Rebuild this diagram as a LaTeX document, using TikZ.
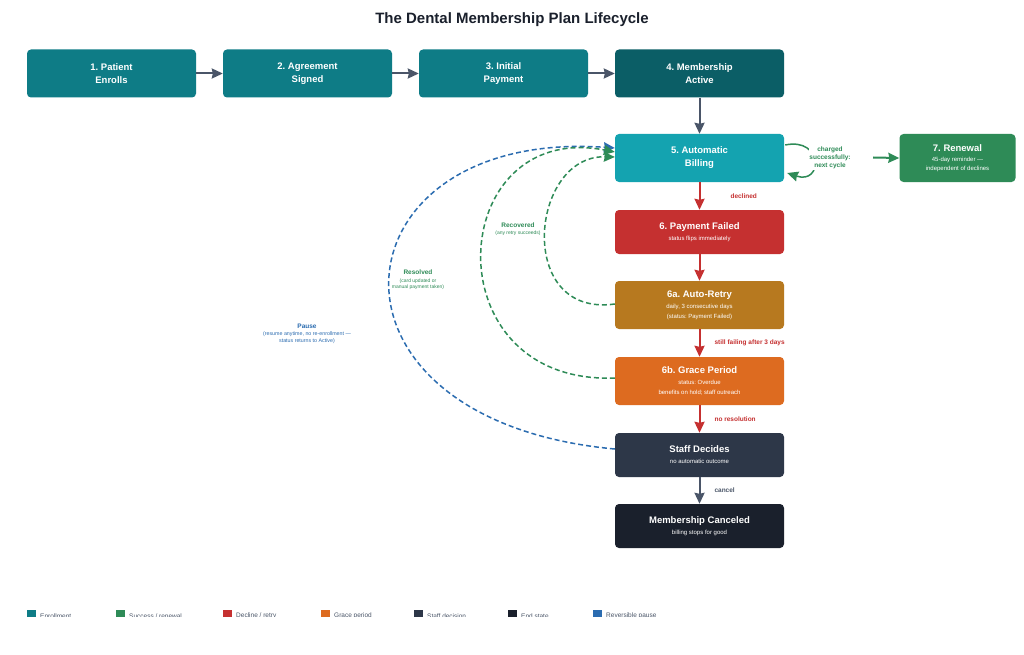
\documentclass[tikz,border=0pt]{standalone}
\usepackage{fontspec}
\setmainfont{Liberation Sans}
\setsansfont{Liberation Sans}
\usetikzlibrary{arrows.meta,calc}
\definecolor{cEnroll}{HTML}{0E7C86}
\definecolor{cActive}{HTML}{0B5E66}
\definecolor{cBill}{HTML}{14A3B0}
\definecolor{cGreen}{HTML}{2E8B57}
\definecolor{cRed}{HTML}{C53030}
\definecolor{cRetry}{HTML}{B7791F}
\definecolor{cGrace}{HTML}{DD6B20}
\definecolor{cStaff}{HTML}{2D3748}
\definecolor{cEnd}{HTML}{1A202C}
\definecolor{cBlue}{HTML}{2B6CB0}
\definecolor{cSlate}{HTML}{4A5568}
\definecolor{cTitle}{HTML}{1A202C}
\newcommand\subtx{\fontsize{6}{10}\selectfont\mdseries}
\tikzset{
  box/.style={rounded corners=4pt, minimum width=169pt, minimum height=48pt, text=white, align=center, inner sep=2pt, font=\fontsize{9.5}{13}\selectfont\bfseries},
  arr/.style={-{Stealth[length=11pt,width=10pt,inset=1pt]}, line width=2pt},
  elab/.style={font=\fontsize{6.5}{8}\selectfont\bfseries, anchor=west},
  dsh/.style={dashed, dash pattern=on 5pt off 3pt, line width=1.5pt, -{Stealth[length=11pt,width=10pt,inset=1pt]}},
  leg/.style={minimum width=9pt, minimum height=7pt, inner sep=0pt},
  legt/.style={font=\fontsize{6.5}{8}\selectfont, text=cSlate, anchor=west, inner sep=0pt}
}
\begin{document}
\frenchspacing
\begin{tikzpicture}[x=1pt,y=-1pt]
\useasboundingbox (0,0) rectangle (1024,655);
\fill[white] (0,0) rectangle (1024,655);
\node[font=\fontsize{15}{18}\selectfont\bfseries, text=cTitle] (title) at (512,19.5) {The Dental Membership Plan Lifecycle};

\node[box, fill=cEnroll] (b1) at (111.5,73.5) {1. Patient\\Enrolls};
\node[box, fill=cEnroll] (b2) at (307.5,73.5) {2. Agreement\\Signed};
\node[box, fill=cEnroll] (b3) at (503.5,73.5) {3. Initial\\Payment};
\node[box, fill=cActive] (b4) at (699.5,73.5) {4. Membership\\Active};
\node[box, fill=cBill] (b5) at (699.5,158) {5. Automatic\\Billing};
\node[box, fill=cGreen, minimum width=116pt] (b7) at (957.5,158) {7. Renewal\\[-3pt]{\subtx 45-day reminder —}\\[-4pt]{\subtx independent of declines}};
\node[box, fill=cRed, minimum height=44pt] (b6) at (699.5,232) {6. Payment Failed\\[-2pt]{\subtx status flips immediately}};
\node[box, fill=cRetry] (b6a) at (699.5,305) {6a. Auto-Retry\\[-2pt]{\subtx daily, 3 consecutive days}\\[-3pt]{\subtx (status: Payment Failed)}};
\node[box, fill=cGrace] (b6b) at (699.5,381) {6b. Grace Period\\[-2pt]{\subtx status: Overdue}\\[-3pt]{\subtx benefits on hold; staff outreach}};
\node[box, fill=cStaff, minimum height=44pt] (bs) at (699.5,455) {Staff Decides\\[-2pt]{\subtx no automatic outcome}};
\node[box, fill=cEnd, minimum height=44pt] (bc) at (699.5,526) {Membership Canceled\\[-2pt]{\subtx billing stops for good}};

\draw[arr, cSlate] (b1) -- (b2);
\draw[arr, cSlate] (b2) -- (b3);
\draw[arr, cSlate] (b3) -- (b4);
\draw[arr, cSlate] (b4) -- (b5);
\draw[arr, cRed] (b5) -- (b6);
\draw[arr, cRed] (b6) -- (b6a);
\draw[arr, cRed] (b6a) -- (b6b);
\draw[arr, cRed] (b6b) -- (bs);
\draw[arr, cSlate] (bs) -- (bc);

\node[elab, text=cRed] (l1) at (727,196) {declined};
\node[elab, text=cRed] (l2) at (711,343) {still failing after 3 days};
\node[elab, text=cRed] (l3) at (711,419) {no resolution};
\node[elab, text=cSlate] (l4) at (711,490) {cancel};

\draw[cGreen, line width=1.5pt, -{Stealth[length=11pt,width=10pt,inset=1pt]}] ([xshift=1pt,yshift=13pt]b5.east) .. controls +(38,-8) and +(36,12) .. ([xshift=3pt,yshift=-15pt]b5.east);
\node[font=\fontsize{6.5}{8}\selectfont\bfseries, text=cGreen, align=center, fill=white, inner sep=0.5pt] (lloop) at (830,158) {charged\\successfully:\\next cycle};
\coordinate (ls) at (873,157.5);
\draw[arr, cGreen] (ls) -- (b7.west);

\draw[dsh, cBlue] ([yshift=6pt]bs.west) .. controls (300,420) and (330,128) .. ([yshift=10pt]b5.west);
\draw[dsh, cGreen] ([yshift=3pt]b6b.west) .. controls (430,385) and (445,119) .. ([yshift=6pt]b5.west);
\draw[dsh, cGreen] ([yshift=1pt]b6a.west) .. controls (515,318) and (530,155) .. ([yshift=1pt]b5.west);

\node[font=\fontsize{6.5}{8}\selectfont\bfseries, text=cBlue] (pl) at (307,326) {Pause};
\node[font=\fontsize{5.3}{6.3}\selectfont, text=cBlue, align=center] (pl2) at (307,337.5) {(resume anytime, no re-enrollment —\\status returns to Active)};
\node[font=\fontsize{6.5}{8}\selectfont\bfseries, text=cGreen] (rl) at (418,272) {Resolved};
\node[font=\fontsize{5}{6}\selectfont, text=cGreen, align=center] (rl2) at (418,284.5) {(card updated or\\manual payment taken)};
\node[font=\fontsize{6.5}{8}\selectfont\bfseries, text=cGreen] (rc) at (518,225) {Recovered};
\node[font=\fontsize{5}{6}\selectfont, text=cGreen] (rc2) at (518,233) {(any retry succeeds)};

\begin{scope}
\clip (0,600) rectangle (1024,616);
\foreach \x/\c/\t [count=\i] in {27/cEnroll/{Enrollment},116/cGreen/{Success / renewal},223/cRed/{Decline / retry},321/cGrace/{Grace period},414/cStaff/{Staff decision},508/cEnd/{End state},593/cBlue/{Reversible pause}}{
  \node[leg, fill=\c, anchor=north west] (lg\i) at (\x,610) {};
  \node[legt] (lt\i) at (\x+13,616) {\t};
}
\end{scope}
\end{tikzpicture}
\end{document}
